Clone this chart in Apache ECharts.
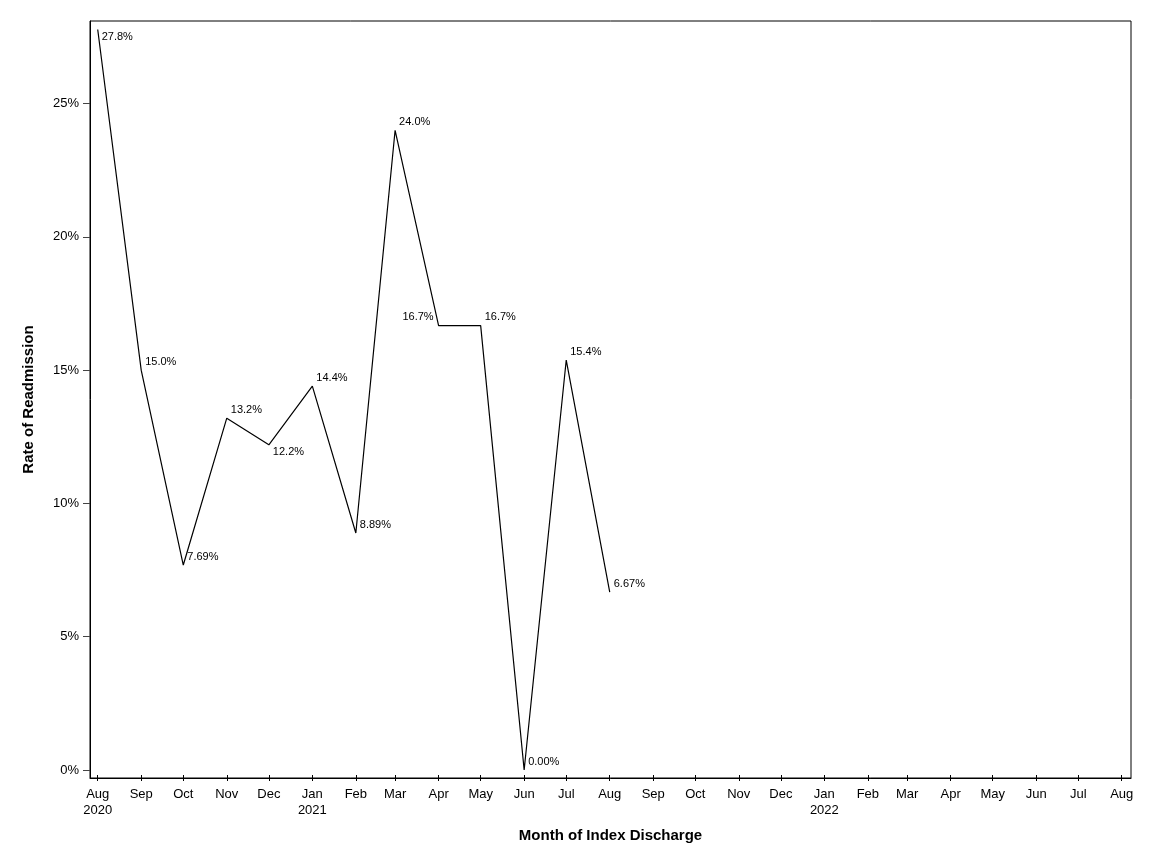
<!DOCTYPE html>
<html>
<head>
<meta charset="utf-8">
<script src="https://cdn.jsdelivr.net/npm/echarts@6/dist/echarts.min.js"></script>
<style>
html,body{margin:0;padding:0;background:#fff;}
#chart{width:1152px;height:864px;}
</style>
</head>
<body>
<div id="chart"></div>
<script>
// Data (month of index discharge, readmission rate in %)
const dataMonths = ['2020-08','2020-09','2020-10','2020-11','2020-12','2021-01','2021-02','2021-03','2021-04','2021-05','2021-06','2021-07','2021-08'];
const rates = [27.78, 15.0, 7.69, 13.2, 12.2, 14.4, 8.89, 24.0, 16.67, 16.67, 0.0, 15.38, 6.67];

// Axis ticks
const tickMonths = ['2020-08','2020-09','2020-10','2020-11','2020-12','2021-01','2021-02','2021-03','2021-04','2021-05','2021-06','2021-07','2021-08','2021-09','2021-10','2021-11','2021-12','2022-01','2022-02','2022-03','2022-04','2022-05','2022-06','2022-07','2022-08'];
const tickLabels = ['Aug\n2020','Sep','Oct','Nov','Dec','Jan\n2021','Feb','Mar','Apr','May','Jun','Jul','Aug','Sep','Oct','Nov','Dec','Jan\n2022','Feb','Mar','Apr','May','Jun','Jul','Aug'];
const yTicks = [0, 5, 10, 15, 20, 25];

const DAY = 86400000;
function toTime(m){ const p = m.split('-'); return Date.UTC(+p[0], +p[1]-1, 1); }
const tickTimes = tickMonths.map(toTime);
const labelMap = {};
tickTimes.forEach((t,i)=>{ labelMap[t] = tickLabels[i]; });

const seriesData = dataMonths.map((m,i)=>{
  const item = {value:[toTime(m), rates[i]]};
  if (i === 0 || i === 4) item.label = {position:[5, 3], align:'left', verticalAlign:'top'};
  if (i === 8) item.label = {position:[-4, -13], align:'right', verticalAlign:'top'};
  return item;
});

const font = 'Liberation Sans, Arial, sans-serif';
const xMin = tickTimes[0] - 5.5*DAY;
const xMax = tickTimes[tickTimes.length-1] + 6.6*DAY;
const chart = echarts.init(document.getElementById('chart'));
chart.setOption({
  animation:false,
  grid:{left:90, right:21, top:21, bottom:86, show:true, borderColor:'#000', borderWidth:1, backgroundColor:'transparent'},
  xAxis:[{
    type:'value',
    min: xMin,
    max: xMax,
    name:'Month of Index Discharge',
    nameLocation:'middle',
    nameGap:50,
    nameTextStyle:{fontFamily:font, fontSize:15, fontWeight:'bold', color:'#000'},
    axisLine:{show:true, onZero:false, lineStyle:{color:'#000', width:1}},
    axisTick:{show:true, customValues:tickTimes, length:3, lineStyle:{color:'#000'}},
    axisLabel:{customValues:tickTimes, formatter:(v)=>labelMap[v]||'', fontFamily:font, fontSize:13, color:'#000', margin:8, lineHeight:16, showMinLabel:true, showMaxLabel:true},
    splitLine:{show:false}
  },{
    type:'value',
    position:'bottom',
    min: xMin,
    max: xMax,
    axisLine:{show:false, onZero:false},
    axisTick:{show:true, inside:true, customValues:tickTimes, length:3, lineStyle:{color:'#000'}},
    axisLabel:{show:false},
    splitLine:{show:false}
  }],
  yAxis:{
    type:'value',
    min:-0.3,
    max:28.1,
    name:'Rate of Readmission',
    nameLocation:'middle',
    nameGap:54,
    nameTextStyle:{fontFamily:font, fontSize:15, fontWeight:'bold', color:'#000'},
    axisLine:{show:true, onZero:false, lineStyle:{color:'#000', width:1}},
    axisTick:{show:true, customValues:yTicks, length:7, lineStyle:{color:'#444'}},
    axisLabel:{customValues:yTicks, formatter:(v)=>v+'%', fontFamily:font, fontSize:13, color:'#000', margin:11},
    splitLine:{show:false}
  },
  series:[{
    type:'line',
    xAxisIndex:0,
    data:seriesData,
    showSymbol:true,
    symbol:'circle',
    symbolSize:2,
    itemStyle:{color:'rgba(0,0,0,0)', borderWidth:0},
    lineStyle:{color:'#000', width:1.2},
    label:{show:true, position:[5, -13], align:'left', verticalAlign:'top', fontFamily:font, fontSize:11, color:'#000',
      formatter:(p)=>p.value[1].toPrecision(3)+'%'}
  }]
});
</script>
</body>
</html>
